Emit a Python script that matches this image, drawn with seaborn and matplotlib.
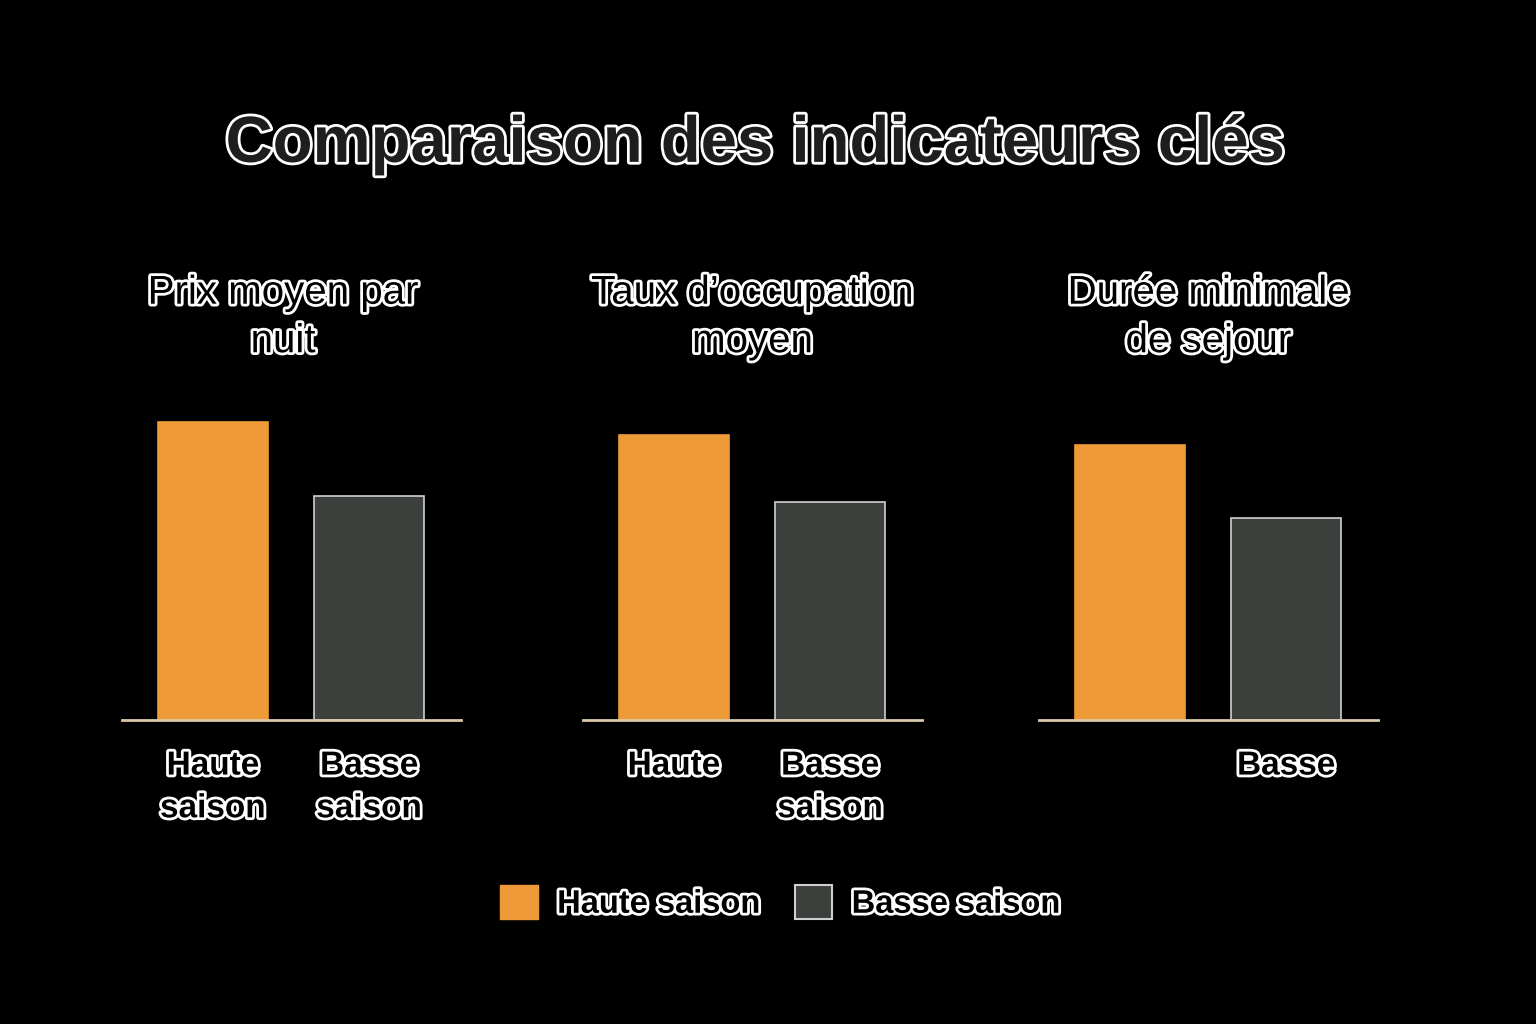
import pandas as pd
import matplotlib.pyplot as plt
import matplotlib.patheffects as pe
from matplotlib.patches import Patch
import seaborn as sns

# Values (relative scale, 0-100, no axis shown)
metrics = ["Prix moyen par\nnuit", "Taux d’occupation\nmoyen", "Durée minimale\nde sejour"]
seasons = ["Haute saison", "Basse saison"]
haute = [87.6, 83.8, 80.9]
basse = [65.9, 64.1, 59.4]
tick_labels = [
    ["Haute\nsaison", "Basse\nsaison"],
    ["Haute", "Basse\nsaison"],
    ["", "Basse"],
]

orange = "#EE9A38"
grey = "#3C403D"
colors = {seasons[0]: orange, seasons[1]: grey}

sns.set_theme(style="dark", rc={"figure.facecolor": "black", "axes.facecolor": "black"})
plt.rcParams['font.family'] = ['Liberation Sans', 'DejaVu Sans']
plt.rcParams['font.weight'] = 'bold'

outline = [pe.withStroke(linewidth=4, foreground="white")]

fig = plt.figure(figsize=(15.36, 10.24), dpi=100)
lefts = [122 / 1536, 583 / 1536, 1039 / 1536]
title_x = [0.475, 0.5, 0.5]

for i, metric in enumerate(metrics):
    ax = fig.add_axes([lefts[i], 1 - 720 / 1024, 339 / 1536, 340 / 1024])
    df = pd.DataFrame({"Saison": seasons, "Valeur": [haute[i], basse[i]]})
    sns.barplot(data=df, x="Saison", y="Valeur", hue="Saison", palette=colors,
                width=0.705, legend=False, ax=ax, saturation=1)
    for patch, ec in zip(ax.patches, [orange, "#CFCFCF"]):
        patch.set_edgecolor(ec)
        patch.set_linewidth(1.2)
    ax.set_xlim(-0.583, 1.587)
    ax.set_ylim(0, 100)
    ax.set_xlabel("")
    ax.set_ylabel("")
    ax.set_yticks([])
    ax.set_xticks([0, 1])
    ax.set_xticklabels(tick_labels[i], fontsize=24, color="black", linespacing=1.49)
    for t in ax.get_xticklabels():
        t.set_path_effects(outline)
    ax.tick_params(axis="x", length=0, pad=22)
    for s in ["top", "left", "right"]:
        ax.spines[s].set_visible(False)
    ax.spines["bottom"].set_color("#D9C9A8")
    ax.spines["bottom"].set_linewidth(2)
    ax.grid(False)
    ttl = ax.set_title(metric, fontsize=29, color="black", pad=20, linespacing=1.35,
                       x=title_x[i])
    ttl.set_path_effects(outline)

fig.text(0.491, 0.859, "Comparaison des indicateurs clés", ha="center", va="center",
         fontsize=47, color="#1E1E1E",
         path_effects=[pe.withStroke(linewidth=4, foreground="white")])

handles = [Patch(facecolor=orange, edgecolor=orange),
           Patch(facecolor=grey, edgecolor="#CFCFCF", linewidth=1.5)]
leg = fig.legend(handles, seasons, loc="center", bbox_to_anchor=(0.508, 0.119), ncol=2,
                 frameon=False, fontsize=23.5, handlelength=1.15, handleheight=1.25,
                 handletextpad=0.6, columnspacing=1.05)
for t in leg.get_texts():
    t.set_color("black")
    t.set_path_effects(outline)

fig.savefig("out.png", dpi=100, facecolor="black")
